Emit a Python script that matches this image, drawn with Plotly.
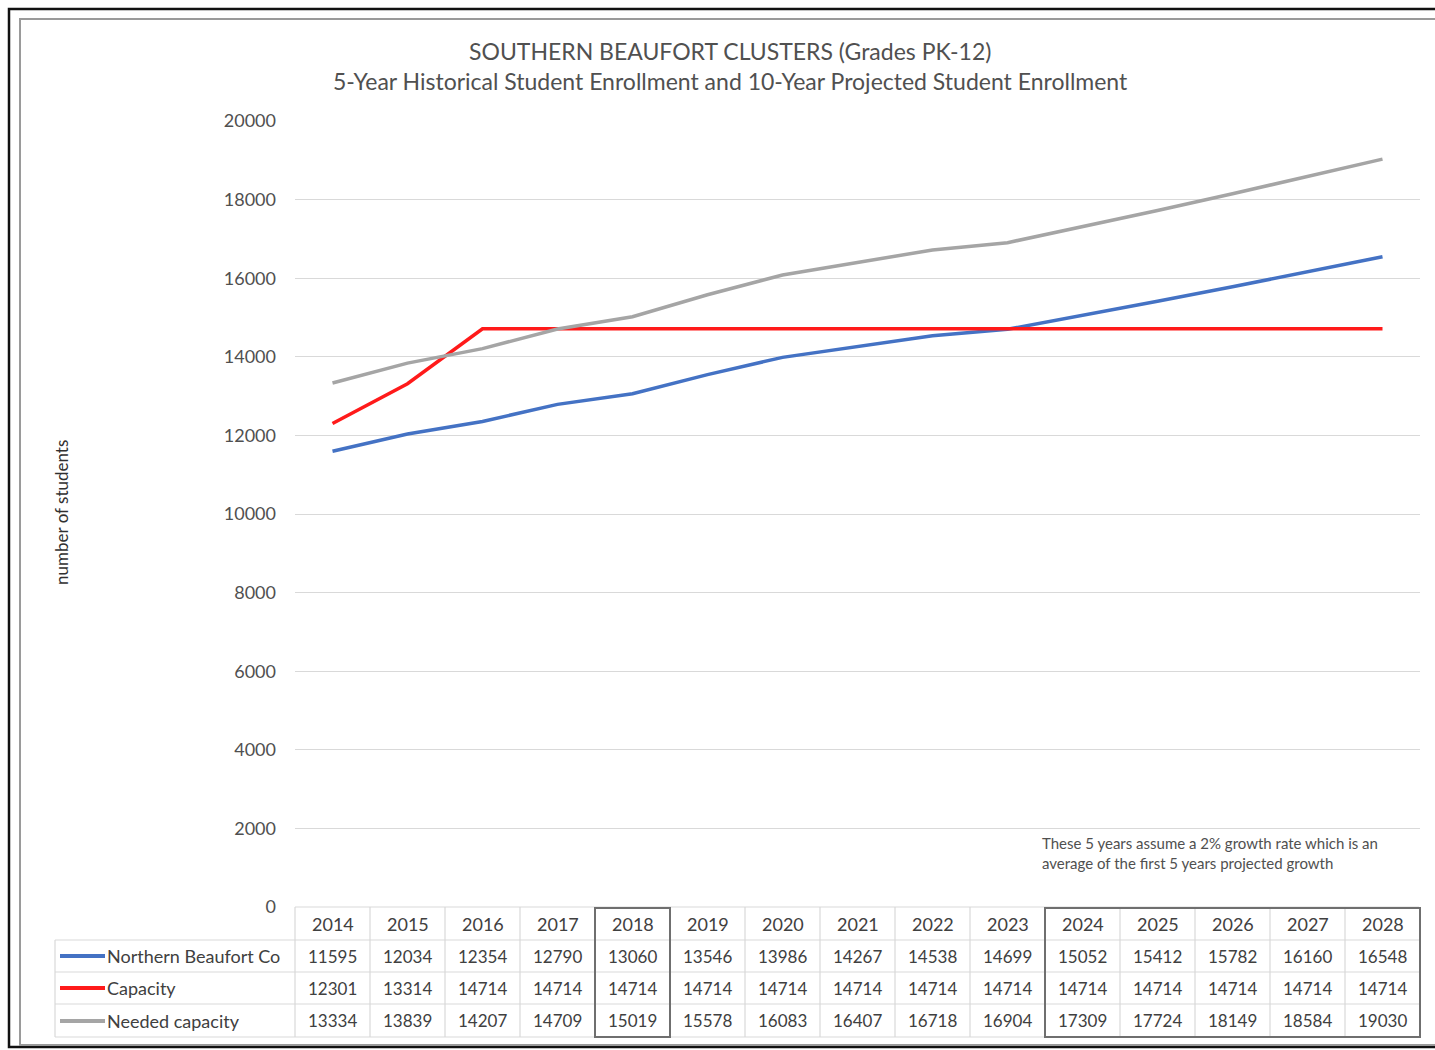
import plotly.graph_objects as go

years = ["2014", "2015", "2016", "2017", "2018", "2019", "2020", "2021", "2022",
         "2023", "2024", "2025", "2026", "2027", "2028"]
northern = [11595, 12034, 12354, 12790, 13060, 13546, 13986, 14267, 14538,
            14699, 15052, 15412, 15782, 16160, 16548]
capacity = [12301, 13314, 14714, 14714, 14714, 14714, 14714, 14714, 14714,
            14714, 14714, 14714, 14714, 14714, 14714]
needed = [13334, 13839, 14207, 14709, 15019, 15578, 16083, 16407, 16718,
          16904, 17309, 17724, 18149, 18584, 19030]
series_names = ["Northern Beaufort Co", "Capacity", "Needed capacity"]
series_colors = ["#4472C4", "#FF1A1A", "#A5A5A5"]
y_ticks = list(range(0, 20001, 2000))

W, H = 1435, 1050
L, R, T, B = 295, 1420, 121, 907
PW, PH = R - L, B - T
N = len(years)


def xp(px):
    return (px - L) / PW


def yp(py):
    return (B - py) / PH


def xcol(i):
    return (i + 0.5) / N


FONT = "Lato, 'Open Sans', sans-serif"
TXT = "#404040"

fig = go.Figure()
for name, vals, col in zip(series_names, [northern, capacity, needed], series_colors):
    fig.add_trace(go.Scatter(x=years, y=vals, mode="lines", name=name,
                             line=dict(color=col, width=3.5), showlegend=False))

shapes = []
annotations = []

# outer frames
shapes.append(dict(type="rect", xref="paper", yref="paper", x0=xp(9), x1=xp(1440),
                   y0=yp(1047), y1=yp(9), line=dict(color="#111111", width=2.5)))
shapes.append(dict(type="rect", xref="paper", yref="paper", x0=xp(20), x1=xp(1440),
                   y0=yp(1045), y1=yp(19), line=dict(color="#9a9a9a", width=2)))

# table geometry (pixel rows)
row_lines = [907, 940, 972, 1004, 1037]
grid_col = "#d9d9d9"
for i, ry in enumerate(row_lines):
    x0 = 295 if i == 0 else 55
    shapes.append(dict(type="line", xref="paper", yref="paper", x0=xp(x0), x1=xp(1419),
                       y0=yp(ry), y1=yp(ry), line=dict(color=grid_col, width=1.2)))
for i in range(N + 1):
    shapes.append(dict(type="line", xref="paper", yref="paper", x0=i / N, x1=i / N,
                       y0=yp(907), y1=yp(1037), line=dict(color=grid_col, width=1.2)))
shapes.append(dict(type="line", xref="paper", yref="paper", x0=xp(55), x1=xp(55),
                   y0=yp(940), y1=yp(1037), line=dict(color=grid_col, width=1.2)))
# highlight boxes
shapes.append(dict(type="rect", xref="paper", yref="paper", x0=4 / N, x1=5 / N,
                   y0=yp(1037), y1=yp(908), line=dict(color="#6f6f6f", width=2)))
shapes.append(dict(type="rect", xref="paper", yref="paper", x0=10 / N, x1=1,
                   y0=yp(1037), y1=yp(908), line=dict(color="#6f6f6f", width=2)))

# header years
for i, yr in enumerate(years):
    annotations.append(dict(x=xcol(i), xref="paper", y=yp(924), yref="paper", text=yr,
                            xanchor="center", yanchor="middle", showarrow=False,
                            font=dict(size=18, color=TXT, family=FONT)))
# rows
row_centers = [956, 988, 1021]
for name, vals, col, ry in zip(series_names, [northern, capacity, needed], series_colors, row_centers):
    shapes.append(dict(type="line", xref="paper", yref="paper", x0=xp(60), x1=xp(105),
                       y0=yp(ry), y1=yp(ry), line=dict(color=col, width=4)))
    annotations.append(dict(x=xp(105), xref="paper", y=yp(ry), yref="paper", text=name,
                            xanchor="left", yanchor="middle", showarrow=False,
                            font=dict(size=18, color=TXT, family=FONT)))
    for i, v in enumerate(vals):
        annotations.append(dict(x=xcol(i), xref="paper", y=yp(ry), yref="paper", text=str(v),
                                xanchor="center", yanchor="middle", showarrow=False,
                                font=dict(size=17, color=TXT, family=FONT)))

# title
annotations.append(dict(x=xp(730), xref="paper", y=yp(51), yref="paper",
                        text="SOUTHERN BEAUFORT CLUSTERS (Grades PK-12)", showarrow=False,
                        xanchor="center", yanchor="middle",
                        font=dict(size=23, color="#505050", family=FONT)))
annotations.append(dict(x=xp(730), xref="paper", y=yp(81), yref="paper",
                        text="5-Year Historical Student Enrollment and 10-Year Projected Student Enrollment",
                        xanchor="center", yanchor="middle", showarrow=False,
                        font=dict(size=23, color="#505050", family=FONT)))
# axis title
annotations.append(dict(x=xp(61), xref="paper", y=yp(513), yref="paper",
                        text="number of students", textangle=-90, showarrow=False,
                        xanchor="center", yanchor="middle",
                        font=dict(size=17, color="#303030", family=FONT)))
# note
annotations.append(dict(x=xp(1040), xref="paper", y=yp(853), yref="paper",
                        text="These 5 years assume a 2% growth rate which is an<br>average of the first 5 years projected growth",
                        xanchor="left", yanchor="middle", align="left", showarrow=False,
                        font=dict(size=15, color="#505050", family=FONT)))

fig.update_layout(
    width=W, height=H,
    margin=dict(l=L, r=W - R, t=T, b=H - B, pad=0),
    paper_bgcolor="white", plot_bgcolor="white",
    font=dict(family=FONT, color=TXT),
    xaxis=dict(type="category", range=[-0.5, N - 0.5], showticklabels=False,
               showgrid=False, zeroline=False, showline=False, fixedrange=True),
    yaxis=dict(range=[0, 20000], tickvals=y_ticks, tickformat="d", showgrid=True,
               gridcolor=grid_col, gridwidth=1.2, zeroline=False, showline=False,
               ticklabelstandoff=18,
               tickfont=dict(size=18, color="#505050", family=FONT)),
    shapes=shapes, annotations=annotations,
)

fig.write_html("out.html")
